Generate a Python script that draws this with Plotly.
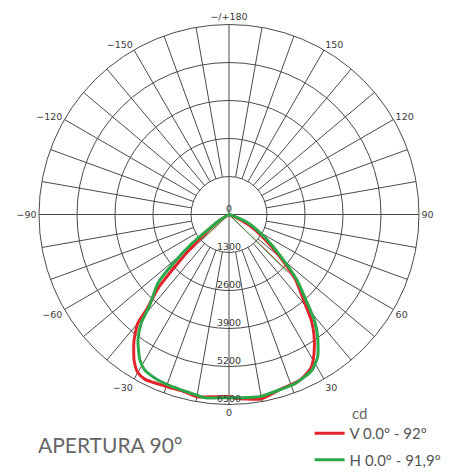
import plotly.graph_objects as go

# ---- data (angle in degrees, intensity in cd) ----
v_angles = [-90, -65, -58, -53, -49, -46, -44, -41, -40, -37, -33, -30, -27, -20, -14, -10, -4, 0, 2, 6, 10, 17, 23, 28, 31.5, 35.5, 38, 41, 45.5, 49.5, 55, 62, 68, 72, 90]
v_values = [0, 0, 400, 885, 1690, 2570, 3456, 4270, 4850, 5400, 5960, 6240, 6330, 6260, 6250, 6330, 6250, 6233, 6290, 6350, 6400, 6220, 6170, 5960, 5570, 5000, 4565, 3890, 3200, 2400, 1530, 773, 200, 0, 0]

h_angles = [-90, -65, -59, -55, -52, -49, -46, -41, -39, -36, -31.5, -28.5, -24, -19.5, -12, -7.5, 0, 4, 9.5, 16, 21.5, 28, 32, 36, 39, 42, 46, 50.5, 57, 66, 72, 76, 90]
h_values = [0, 0, 350, 724, 1612, 2454, 3375, 4153, 4765, 5297, 5835, 6047, 6149, 6192, 6249, 6321, 6267, 6284, 6318, 6243, 6209, 6035, 5727, 5158, 4635, 3929, 3237, 2360, 1497, 748, 150, 0, 0]

# thin straight segments from the centre
v_thin_angles = [-47, 46]
v_thin_values = [2770, 3110]
h_thin_angles = [-48, 45.5]
h_thin_values = [2480, 2795]

radial_ticks = [0, 1300, 2600, 3900, 5200, 6500]
radial_labels = ["0", "1300", "2600", "3900", "5200", "6500"]
angle_ticks = [0, 30, 60, 90, 120, 150, 180, 210, 240, 270, 300, 330]
angle_labels = ["0", "30", "60", "90", "120", "150", "−/+180", "−150", "−120", "−90", "−60", "−30"]

series_names = ["V 0.0º - 92º", "H 0.0º - 91,9º"]
RED = "#e3242b"
GREEN = "#2ca84a"
GRID = "#4a4a4a"

R_MAX = radial_ticks[-1]
R_INNER = radial_ticks[1]

fig = go.Figure()

# spokes (every 10 degrees); main axes pass through the centre
sp_t, sp_r = [], []
for a in range(0, 360, 10):
    r0 = 0 if a % 90 == 0 else R_INNER
    sp_t += [a, a, None]
    sp_r += [r0, R_MAX, None]
fig.add_trace(go.Scatterpolar(theta=sp_t, r=sp_r, mode="lines",
                              line=dict(color=GRID, width=1), hoverinfo="skip",
                              showlegend=False))

def thin(angles, values):
    t, r = [], []
    for a, v in zip(angles, values):
        t += [a, a, None]
        r += [0, v, None]
    return t, r

tt, rr = thin(v_thin_angles, v_thin_values)
fig.add_trace(go.Scatterpolar(theta=tt, r=rr, mode="lines",
                              line=dict(color=RED, width=1), showlegend=False))
tt, rr = thin(h_thin_angles, h_thin_values)
fig.add_trace(go.Scatterpolar(theta=tt, r=rr, mode="lines",
                              line=dict(color=GREEN, width=1), showlegend=False))

fig.add_trace(go.Scatterpolar(theta=v_angles, r=v_values, mode="lines",
                              name=series_names[0], legendgroup="v",
                              line=dict(color=RED, width=3, shape="spline", smoothing=0.6)))
fig.add_trace(go.Scatterpolar(theta=h_angles, r=h_values, mode="lines",
                              name=series_names[1], legendgroup="h",
                              line=dict(color=GREEN, width=3, shape="spline", smoothing=0.6)))

# radial labels along the 0° axis
fig.add_trace(go.Scatterpolar(theta=[0] * len(radial_ticks), r=radial_ticks,
                              mode="text", text=radial_labels, textposition="top center",
                              textfont=dict(family="DejaVu Sans", size=9.5, color="#3a3a3a"),
                              hoverinfo="skip", showlegend=False))

W, H = 452, 475
cx, cy, rad = 229, 214.5, 190
fig.update_layout(
    width=W, height=H,
    margin=dict(l=0, r=0, t=0, b=0, autoexpand=False),
    paper_bgcolor="white",
    showlegend=True,
    legend=dict(x=0.685, y=0.122, xanchor="left", yanchor="top",
                font=dict(family="Lato", size=15, color="#555555"),
                tracegroupgap=4, bgcolor="rgba(0,0,0,0)", itemwidth=30),
    polar=dict(
        domain=dict(x=[(cx - rad) / W, (cx + rad) / W],
                    y=[1 - (cy + rad) / H, 1 - (cy - rad) / H]),
        bgcolor="white",
        angularaxis=dict(rotation=-90, direction="counterclockwise",
                         tickmode="array", tickvals=angle_ticks, ticktext=angle_labels,
                         ticks="", showgrid=False, showline=True,
                         linecolor=GRID, linewidth=1,
                         tickfont=dict(family="DejaVu Sans", size=9.5, color="#3a3a3a")),
        radialaxis=dict(range=[0, R_MAX], tickmode="array",
                        tickvals=radial_ticks[1:], showticklabels=False,
                        ticks="", showline=False, showgrid=True,
                        gridcolor=GRID, gridwidth=1, angle=-90),
    ),
    annotations=[
        dict(text="cd", x=359 / W, y=1 - 413 / H, xref="paper", yref="paper",
             showarrow=False, xanchor="center", yanchor="middle",
             font=dict(family="Lato", size=15, color="#666666")),
        dict(text="APERTURA 90°", x=36 / W, y=1 - 444 / H, xref="paper", yref="paper",
             showarrow=False, xanchor="left", yanchor="middle",
             font=dict(family="Lato", size=21, color="#666666")),
    ],
)

fig.write_html("out.html", config={"displayModeBar": False},
               post_script="document.body.style.margin='0';document.body.style.overflow='hidden';")
